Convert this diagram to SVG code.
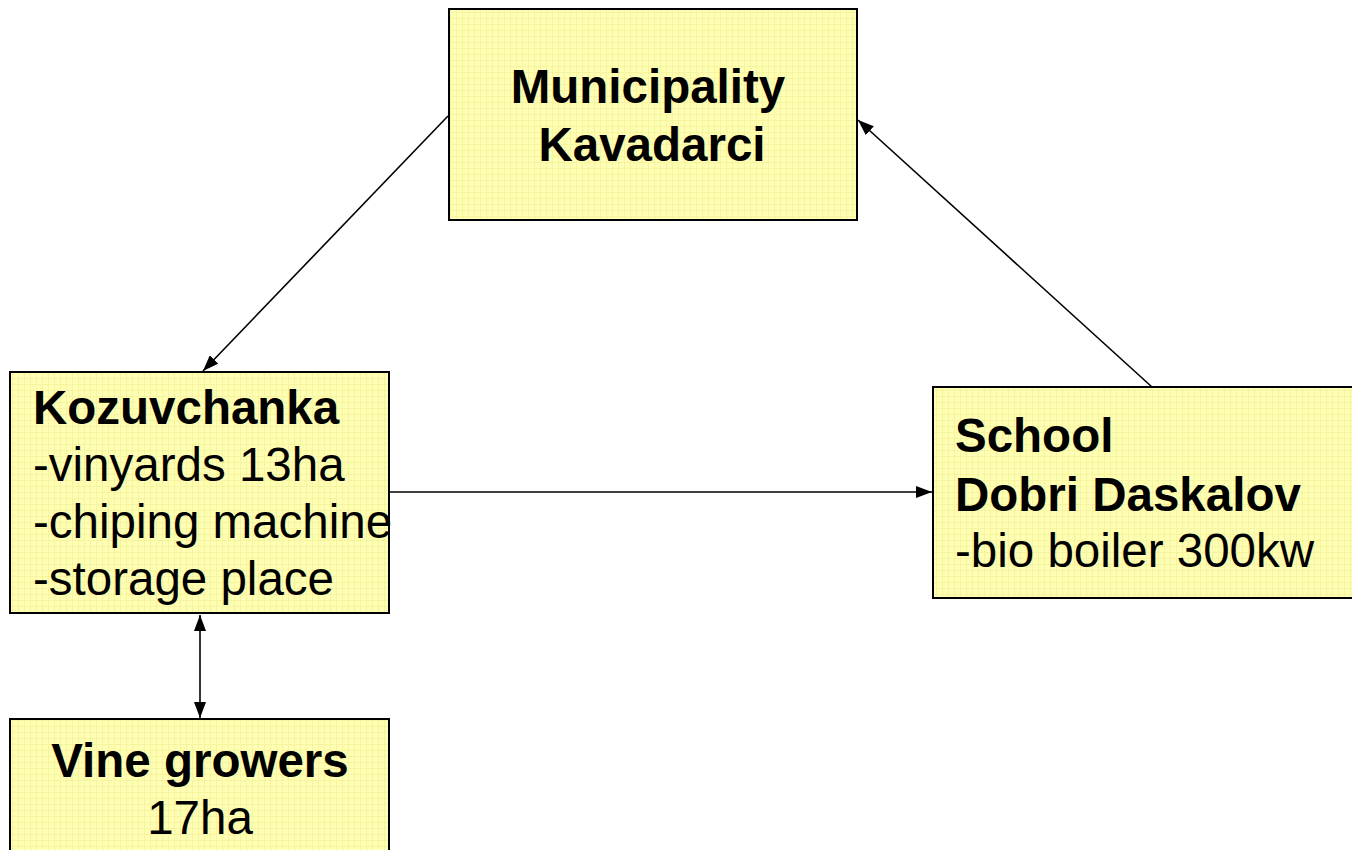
<svg xmlns="http://www.w3.org/2000/svg" width="1352" height="850" viewBox="0 0 1352 850">
<style>
.box{fill:url(#grid);stroke:#000;stroke-width:2}
.t{font-family:"Liberation Sans",Arial,sans-serif;font-size:47.5px;fill:#000}
.b{font-weight:bold}
.c{text-anchor:middle}
.con{stroke:#000;stroke-width:1.6;fill:none}
</style>
<defs>
<pattern id="grid" width="6" height="6" patternUnits="userSpaceOnUse">
<rect width="6" height="6" fill="#FFFFB4"/>
<path d="M0 0.5H6M0.5 0V6" stroke="#F6F4A0" stroke-width="1"/>
</pattern>
<marker id="ah" viewBox="0 0 16 12" refX="16" refY="6" markerWidth="16" markerHeight="12" markerUnits="userSpaceOnUse" orient="auto-start-reverse">
<path d="M0 0L16 6L0 12Z" fill="#000"/>
</marker>
</defs>
<g id="connectors">
<line class="con" x1="448" y1="116" x2="203" y2="371" marker-end="url(#ah)"/>
<line class="con" x1="1152" y1="387" x2="858" y2="120" marker-end="url(#ah)"/>
<line class="con" x1="389" y1="492" x2="932" y2="492" marker-end="url(#ah)"/>
<line class="con" x1="200" y1="615" x2="200" y2="718" stroke-width="2" marker-start="url(#ah)" marker-end="url(#ah)"/>
</g>
<g id="municipality">
<rect class="box" x="449" y="9" width="408" height="211"/>
<text class="t b c" x="648" y="103">Municipality</text>
<text class="t b c" x="652" y="161">Kavadarci</text>
</g>
<g id="kozuvchanka">
<rect class="box" x="10" y="372" width="379" height="241"/>
<text class="t b" x="33" y="424">Kozuvchanka</text>
<text class="t" x="33" y="481">-vinyards 13ha</text>
<text class="t" x="33" y="538">-chiping machine</text>
<text class="t" x="33" y="595">-storage place</text>
</g>
<g id="school">
<rect class="box" x="933" y="387" width="430" height="211"/>
<text class="t b" x="955" y="452">School</text>
<text class="t b" x="955" y="511">Dobri Daskalov</text>
<text class="t" x="955" y="567">-bio boiler 300kw</text>
</g>
<g id="vine-growers">
<rect class="box" x="10" y="719" width="379" height="150"/>
<text class="t b c" x="200" y="777">Vine growers</text>
<text class="t c" x="200" y="834">17ha</text>
</g>
</svg>
